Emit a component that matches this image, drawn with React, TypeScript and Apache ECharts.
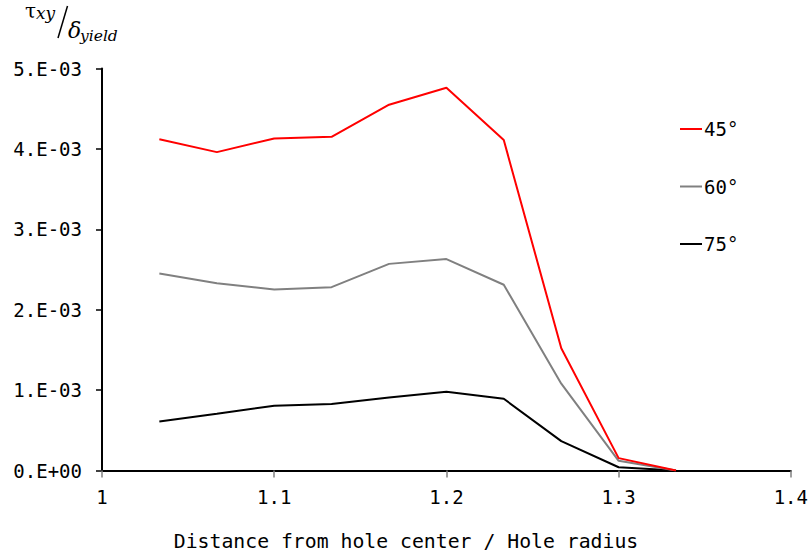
import React, { useEffect, useRef } from "react";
import * as echarts from "echarts";

const xValues = [1.0333, 1.0667, 1.1, 1.1333, 1.1667, 1.2, 1.2333, 1.2667, 1.3, 1.3333];
const series45 = [0.00412, 0.00396, 0.00413, 0.00415, 0.00455, 0.00476, 0.00411, 0.00152, 0.000154, 0];
const series60 = [0.00245, 0.00233, 0.00225, 0.00228, 0.00257, 0.00263, 0.00231, 0.00108, 0.00012, 0];
const series75 = [0.00061, 0.000705, 0.000805, 0.000826, 0.000908, 0.000979, 0.000892, 0.000366, 0.00004, 0];
const seriesNames = ["45°", "60°", "75°"];
const seriesColors = ["#ff0000", "#808080", "#000000"];
const xTickLabels = ["1", "1.1", "1.2", "1.3", "1.4"];
const yTickLabels = ["0.E+00", "1.E-03", "2.E-03", "3.E-03", "4.E-03", "5.E-03"];
const xTitle = "Distance from hole center / Hole radius";

const MONO = "'DejaVu Sans Mono', 'Liberation Mono', monospace";
const SERIF = "'DejaVu Serif', 'Liberation Serif', serif";

export default function App() {
  const ref = useRef<HTMLDivElement>(null);
  useEffect(() => {
    if (!ref.current) return;
    const chart = echarts.init(ref.current, null, { renderer: "svg" });
    const allSeries = [series45, series60, series75].map((vals, i) => ({
      name: seriesNames[i],
      type: "line",
      data: vals.map((v, j) => [xValues[j], v]),
      symbol: "none",
      color: seriesColors[i],
      lineStyle: { width: 2, color: seriesColors[i] },
      z: 3 - i,
    }));
    chart.setOption({
      animation: false,
      grid: { left: 102, right: 19, top: 68.5, bottom: 88.5, containLabel: false },
      legend: {
        data: seriesNames,
        orient: "vertical",
        left: 680,
        top: 119,
        padding: 0,
        itemGap: 37.5,
        itemWidth: 22,
        itemHeight: 2,
        icon: "rect",
        textStyle: { fontFamily: MONO, fontSize: 19, lineHeight: 20, color: "#000", padding: [0, 0, 0, -3] },
      },
      xAxis: {
        type: "value",
        min: 1,
        max: 1.4,
        interval: 0.1,
        axisLine: { show: true, lineStyle: { color: "#000", width: 2 } },
        axisTick: { show: true, length: 7, lineStyle: { color: "#808080", width: 1.5 } },
        splitLine: { show: false },
        axisLabel: {
          margin: 17,
          fontFamily: MONO,
          fontSize: 19,
          color: "#000",
          formatter: (v: number) => xTickLabels[Math.round((v - 1) / 0.1)] ?? "",
        },
      },
      yAxis: {
        type: "value",
        min: 0,
        max: 0.005,
        interval: 0.001,
        axisLine: { show: true, lineStyle: { color: "#000", width: 2 } },
        axisTick: { show: true, length: 6, lineStyle: { color: "#000", width: 1.5 } },
        splitLine: { show: false },
        axisLabel: {
          margin: 20,
          fontFamily: MONO,
          fontSize: 19,
          color: "#000",
          formatter: (v: number) => yTickLabels[Math.round(v / 0.001)] ?? "",
        },
      },
      graphic: [
        { type: "text", x: 25, y: 10.5, style: { text: "τ", font: `20px ${SERIF}`, fill: "#000", verticalAlign: "middle" } },
        { type: "text", x: 36, y: 13, style: { text: "xy", font: `italic 17px ${SERIF}`, lineHeight: 16, fill: "#000", verticalAlign: "middle" } },
        { type: "line", shape: { x1: 58, y1: 38, x2: 67.5, y2: 6 }, style: { stroke: "#000", lineWidth: 1.5 } },
        { type: "text", x: 68, y: 30.5, style: { text: "δ", font: `italic 22px ${SERIF}`, fill: "#000", verticalAlign: "middle" } },
        { type: "text", x: 80, y: 36, style: { text: "yield", font: `italic 15.5px ${SERIF}`, fill: "#000", verticalAlign: "middle" } },
        { type: "text", x: 406, y: 541, style: { text: xTitle, font: `19.8px ${MONO}`, fill: "#000", align: "center", verticalAlign: "middle" } },
      ],
      series: allSeries,
    });
    return () => chart.dispose();
  }, []);
  return <div ref={ref} style={{ width: 811, height: 559, position: "absolute", left: 0, top: 0 }} />;
}
